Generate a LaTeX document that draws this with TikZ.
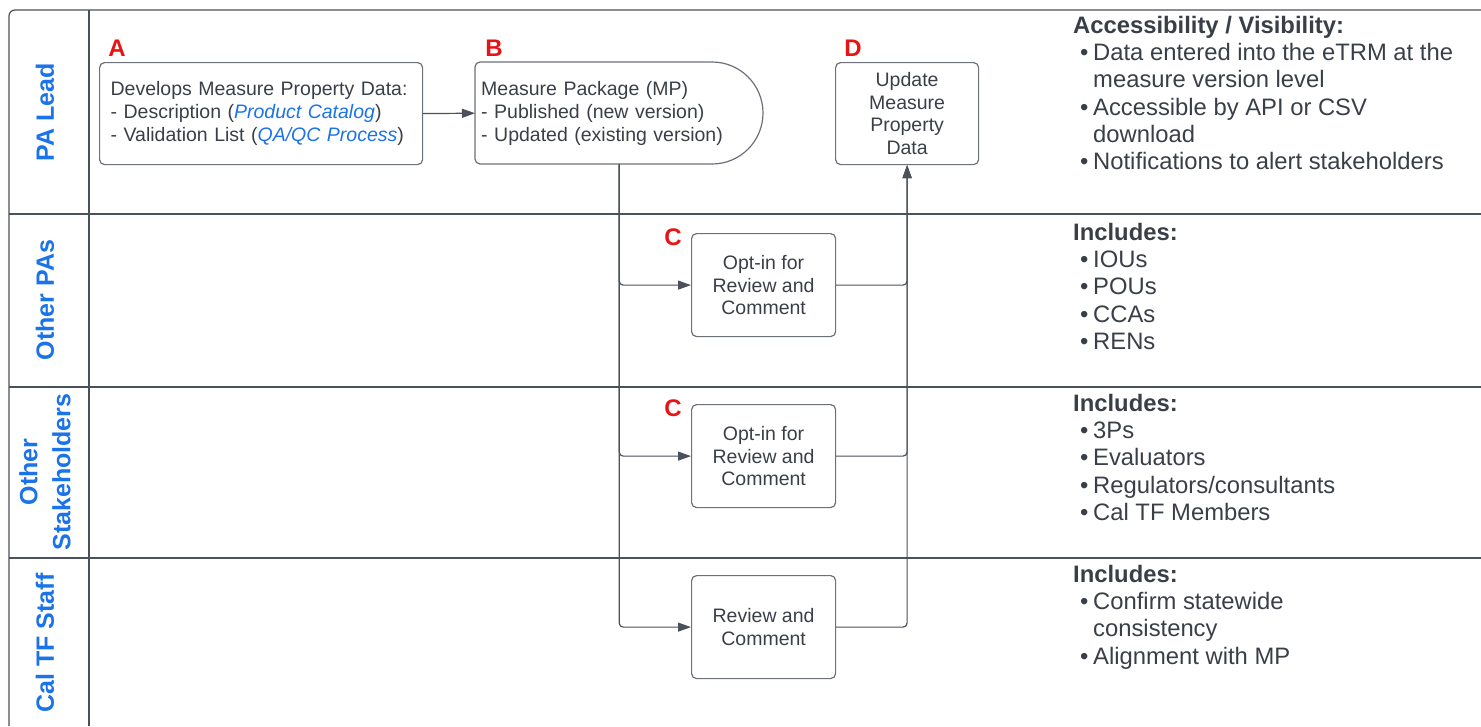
\documentclass[tikz,border=0pt]{standalone}
\usepackage{fontspec}
\setmainfont{Liberation Sans}
\usetikzlibrary{arrows.meta,calc}
\definecolor{txt}{HTML}{3A3F47}
\definecolor{ln}{HTML}{4B515A}
\definecolor{bx}{HTML}{6B7079}
\definecolor{lblue}{HTML}{1A73E8}
\definecolor{lred}{HTML}{E81414}
\newcommand{\bu}{\hspace*{7pt}\makebox[13pt][l]{•}}
\begin{document}
\begin{tikzpicture}[x=1pt,y=-1pt,
 frame/.style={draw=ln, line width=1.2pt},
 boxfont/.style={font=\fontsize{19.5}{22.8}\selectfont, text=txt},
 box/.style={draw=bx, line width=1.2pt, rounded corners=5pt, boxfont, inner sep=0pt},
 letter/.style={font=\fontsize{24}{24}\selectfont\bfseries, text=lred},
 lane/.style={font=\fontsize{25}{33}\selectfont\bfseries, text=lblue, rotate=90, align=center},
 side/.style={font=\fontsize{23.8}{27.3}\selectfont, text=txt, inner sep=0pt, anchor=north west},
 conn/.style={draw=ln, line width=1.2pt, rounded corners=4pt},
 arr/.style={conn, -{Triangle[length=13pt,width=9pt]}},
]
\useasboundingbox (0,0) rectangle (1481,726);
% frame and lanes
\draw[frame, rounded corners=6pt] (1481,10) -- (9,10) -- (9,726);
\draw[frame] (89,10) -- (89,726);
\draw[frame] (9,214) -- (1481,214);
\draw[frame] (9,387) -- (1481,387);
\draw[frame] (9,558) -- (1481,558);
% lane labels
\node[lane] (l1) at (45,112) {PA Lead};
\node[lane] (l2) at (45,300) {Other PAs};
\node[lane] (l3) at (45,472) {Other\\Stakeholders};
\node[lane] (l4) at (45,643) {Cal TF Staff};
% boxes
\node[box, anchor=north west, minimum width=323pt, minimum height=102pt, text width=301pt, align=left] (A) at (99,62)
 {Develops Measure Property Data:\\- Description (\textcolor{lblue}{\itshape Product Catalog})\\- Validation List (\textcolor{lblue}{\itshape QA/QC Process})};
\node[boxfont, inner sep=0pt, anchor=north west, minimum width=288pt, minimum height=102pt, text width=276pt, align=left] (B) at (475,62)
 {Measure Package (MP)\\- Published (new version)\\- Updated (existing version)};
\draw[draw=bx, line width=1.2pt, rounded corners=5pt] (712,62) -- (475,62) -- (475,164) -- (712,164);
\draw[draw=bx, line width=1.2pt] (712,164) .. controls (740.2,164) and (763,141.2) .. (763,113) .. controls (763,84.8) and (740.2,62) .. (712,62);
\node[box, anchor=north west, minimum width=143pt, minimum height=102pt, align=center] (D) at (835,62)
 {Update\\Measure\\Property\\Data};
\node[box, anchor=north west, minimum width=144pt, minimum height=103pt, align=center] (C1) at (691,233)
 {Opt-in for\\Review and\\Comment};
\node[box, anchor=north west, minimum width=144pt, minimum height=103pt, align=center] (C2) at (691,404)
 {Opt-in for\\Review and\\Comment};
\node[box, anchor=north west, minimum width=144pt, minimum height=103pt, align=center] (C3) at (691,575)
 {Review and\\Comment};
% letters
\node[letter] (la) at (117,48) {A};
\node[letter] (lb) at (494,48) {B};
\node[letter] (ld) at (853,48) {D};
\node[letter] (lc1) at (673,237) {C};
\node[letter] (lc2) at (673,408) {C};
% connectors
\draw[arr] (A.east) -- (B.west);
\draw[arr] (B.south) |- (C1.west);
\draw[arr] (B.south) |- (C2.west);
\draw[arr] (B.south) |- (C3.west);
\draw[arr] (C1.east) -| (D.south);
\draw[arr] (C2.east) -| (D.south);
\draw[arr] (C3.east) -| (D.south);
% side notes
\node[side] (s1) at (1073,14) {\begin{tabular}{@{}l@{}l@{}}
\multicolumn{2}{@{}l@{}}{\bfseries Accessibility / Visibility:}\\
\bu & Data entered into the eTRM at the\\
 & measure version level\\
\bu & Accessible by API or CSV\\
 & download\\
\bu & Notifications to alert stakeholders
\end{tabular}};
\node[side] (s2) at (1073,221) {\begin{tabular}{@{}l@{}l@{}}
\multicolumn{2}{@{}l@{}}{\bfseries Includes:}\\
\bu & IOUs\\
\bu & POUs\\
\bu & CCAs\\
\bu & RENs
\end{tabular}};
\node[side] (s3) at (1073,392) {\begin{tabular}{@{}l@{}l@{}}
\multicolumn{2}{@{}l@{}}{\bfseries Includes:}\\
\bu & 3Ps\\
\bu & Evaluators\\
\bu & Regulators/consultants\\
\bu & Cal TF Members
\end{tabular}};
\node[side] (s4) at (1073,563) {\begin{tabular}{@{}l@{}l@{}}
\multicolumn{2}{@{}l@{}}{\bfseries Includes:}\\
\bu & Confirm statewide\\
 & consistency\\
\bu & Alignment with MP
\end{tabular}};
\end{tikzpicture}
\end{document}
